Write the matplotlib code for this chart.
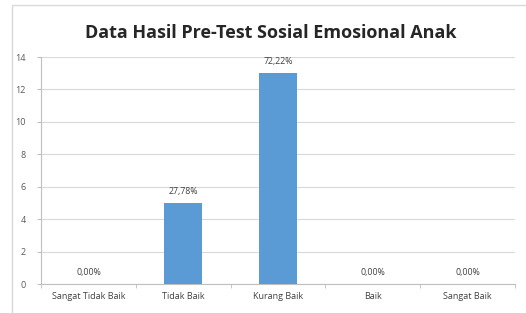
import numpy as np
import matplotlib.pyplot as plt
from matplotlib.patches import Rectangle

categories = ['Sangat Tidak Baik', 'Tidak Baik', 'Kurang Baik', 'Baik', 'Sangat Baik']
counts = [0, 5, 13, 0, 0]
labels = ['0,00%', '27,78%', '72,22%', '0,00%', '0,00%']
yticks = [0, 2, 4, 6, 8, 10, 12, 14]

plt.rcParams['font.family'] = ['Open Sans', 'DejaVu Sans']

fig = plt.figure(figsize=(5.26, 3.13), dpi=100)
ax = fig.add_axes([41/526, 1 - 284/313, 474/526, (284 - 57)/313])

# outer chart border
fig.patches.append(Rectangle((12/526, -0.05), 1.0, 1 - 5/313 + 0.05, transform=fig.transFigure,
                             fill=False, edgecolor='#d9d9d9', lw=1))

x = np.arange(len(categories))
ax.bar(x, counts, width=0.4, color='#5b9bd5', zorder=3)
for xi, c, lab in zip(x, counts, labels):
    ax.text(xi, c + 0.45, lab, ha='center', va='bottom', fontsize=6.3, color='#404040')

ax.set_xlim(-0.5, len(categories) - 0.5)
ax.set_ylim(0, 14)
ax.set_yticks(yticks)
ax.set_yticklabels([str(v) for v in yticks], fontsize=6.5, color='#595959')
ax.set_xticks(x)
ax.set_xticklabels(categories, fontsize=6.5, color='#404040')
ax.tick_params(axis='x', length=0, pad=6)
ax.tick_params(axis='y', length=3, color='#bfbfbf', pad=8)
ax.set_xticks(np.arange(-0.5, len(categories), 1), minor=True)
ax.tick_params(axis='x', which='minor', length=3, color='#bfbfbf')
ax.grid(axis='y', color='#d9d9d9', lw=0.8, zorder=0)
for s in ['top', 'right']:
    ax.spines[s].set_visible(False)
ax.spines['left'].set_color('#bfbfbf')
ax.spines['bottom'].set_color('#bfbfbf')

fig.text(271/526, 1 - 33/313, 'Data Hasil Pre-Test Sosial Emosional Anak', ha='center', va='center',
         fontsize=13, fontweight='bold', color='#262626')

fig.savefig('out.png', dpi=100)
